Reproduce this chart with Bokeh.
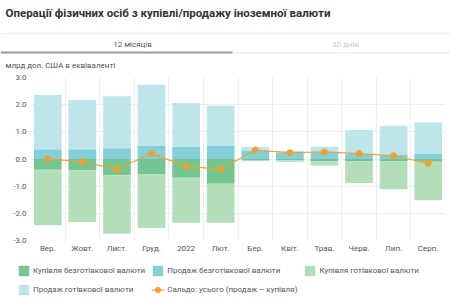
from bokeh.plotting import figure
from bokeh.layouts import column
from bokeh.models import (Range1d, FixedTicker, PrintfTickFormatter, Legend,
                          LegendItem, ColumnDataSource)
from bokeh.core.properties import value
from bokeh.embed import file_html
from bokeh.resources import INLINE

# Monthly operations of individuals, bn USD equivalent
months = ["Вер.", "Жовт.", "Лист.", "Груд.", "2022", "Лют.",
          "Бер.", "Квіт.", "Трав.", "Черв.", "Лип.", "Серп."]
cashless_sale = [0.36, 0.36, 0.40, 0.48, 0.45, 0.48, 0.32, 0.22, 0.25, 0.20, 0.15, 0.20]
cash_sale = [2.00, 1.81, 1.91, 2.25, 1.61, 1.48, 0.12, 0.08, 0.20, 0.87, 1.07, 1.14]
cashless_buy = [0.40, 0.41, 0.60, 0.57, 0.69, 0.91, 0.04, 0.05, 0.08, 0.08, 0.08, 0.10]
cash_buy = [2.04, 1.91, 2.15, 1.97, 1.66, 1.44, 0.03, 0.05, 0.16, 0.80, 1.03, 1.42]
saldo = [0.00, -0.10, -0.38, 0.20, -0.26, -0.38, 0.33, 0.23, 0.26, 0.20, 0.12, -0.16]

y_ticks = [-3, -2, -1, 0, 1, 2, 3]

title_text = "Операції фізичних осіб з купівлі/продажу іноземної валюти"
tab_labels = ["12 місяців", "30 днів"]
unit_text = "млрд дол. США в еквіваленті"
legend_labels = ["Купівля безготівкової валюти", "Продаж безготівкової валюти",
                 "Купівля готівкової валюти", "Продаж готівкової валюти",
                 "Сальдо: усього (продаж – купівля)"]

FONT = "Roboto"
TXT = "#555555"

C_CASHLESS_BUY = "#74c58f"
C_CASHLESS_SALE = "#84cfd8"
C_CASH_BUY = "#b3deba"
C_CASH_SALE = "#bde5ea"
C_SALDO = "#eea234"

W = 450
HEAD_H = 72
FOOT_H = 47
MAIN_H = 305 - HEAD_H - FOOT_H


def no_frame_align(fig):
    # keep each figure's own borders inside the column
    try:
        fig.frame_align = False
    except AttributeError:
        pass


# ---------- header: title, tabs, unit caption (pixel coordinates) ----------
head = figure(width=W, height=HEAD_H, x_range=Range1d(0, W), y_range=Range1d(HEAD_H, 0),
              toolbar_location=None, output_backend="svg",
              x_axis_location=None, y_axis_location=None,
              min_border_left=0, min_border_right=0, min_border_top=0, min_border_bottom=0)
head.grid.visible = False
head.outline_line_color = None
no_frame_align(head)

head.text(x=[5], y=[12], text=[title_text], text_font=value(FONT), text_font_size="11.5px",
          text_font_style="bold", text_color="#333333", text_baseline="middle")
head.segment(x0=[0], y0=[33], x1=[W], y1=[33], line_color="#eeeeee", line_width=1)
head.text(x=[132], y=[44], text=[tab_labels[0]], text_font=value(FONT), text_font_size="8px",
          text_color=TXT, text_align="center", text_baseline="middle")
head.text(x=[345], y=[44], text=[tab_labels[1]], text_font=value(FONT), text_font_size="8px",
          text_color="#cccccc", text_align="center", text_baseline="middle")
head.segment(x0=[232], y0=[52.5], x1=[W], y1=[52.5], line_color="#e6e6e6", line_width=1)
head.segment(x0=[0], y0=[52], x1=[232], y1=[52], line_color="#9a9a9a", line_width=2)
head.text(x=[5], y=[65], text=[unit_text], text_font=value(FONT), text_font_size="8px",
          text_color=TXT, text_baseline="middle")

# ---------- main chart ----------
n = len(months)
xs = list(range(n))
pos1_top = cashless_sale
pos2_top = [a + b for a, b in zip(cashless_sale, cash_sale)]
neg1_bot = [-a for a in cashless_buy]
neg2_bot = [-(a + b) for a, b in zip(cashless_buy, cash_buy)]

src = ColumnDataSource(dict(x=xs, pos1_top=pos1_top, pos2_top=pos2_top,
                            neg1_bot=neg1_bot, neg2_bot=neg2_bot, saldo=saldo))

p = figure(width=W, height=MAIN_H, x_range=Range1d(-0.5, n - 0.5),
           y_range=Range1d(-3, 3), toolbar_location=None, output_backend="svg",
           min_border_left=30, min_border_right=5, min_border_top=5, min_border_bottom=18)
p.outline_line_color = None
no_frame_align(p)

BW = 0.8
p.vbar(x="x", bottom=0, top="neg1_bot", width=BW, source=src,
       fill_color=C_CASHLESS_BUY, line_color=None)
p.vbar(x="x", bottom=0, top="pos1_top", width=BW, source=src,
       fill_color=C_CASHLESS_SALE, line_color=None)
p.vbar(x="x", bottom="neg2_bot", top="neg1_bot", width=BW, source=src,
       fill_color=C_CASH_BUY, line_color=None)
p.vbar(x="x", bottom="pos1_top", top="pos2_top", width=BW, source=src,
       fill_color=C_CASH_SALE, line_color=None)
p.line(x="x", y="saldo", source=src, line_color=C_SALDO, line_width=1.2)
p.scatter(x="x", y="saldo", source=src, size=6, fill_color=C_SALDO, line_color=C_SALDO)

# grids: horizontal at ticks, vertical between months
p.ygrid.ticker = FixedTicker(ticks=y_ticks)
p.ygrid.grid_line_color = "#eeeeee"
p.xgrid.ticker = FixedTicker(ticks=[i - 0.5 for i in range(n + 1)])
p.xgrid.grid_line_color = "#eeeeee"

p.yaxis.ticker = FixedTicker(ticks=y_ticks)
p.yaxis.formatter = PrintfTickFormatter(format="%.1f")
p.yaxis.axis_line_color = None
p.yaxis.major_tick_line_color = None
p.yaxis.minor_tick_line_color = None
p.yaxis.major_tick_out = 0
p.yaxis.minor_tick_out = 0
p.yaxis.major_label_text_font = FONT
p.yaxis.major_label_text_font_size = "8px"
p.yaxis.major_label_text_color = TXT
p.yaxis.major_label_standoff = 4

p.xaxis.ticker = FixedTicker(ticks=xs)
p.xaxis.major_label_overrides = {i: m for i, m in enumerate(months)}
p.xaxis.axis_line_color = None
p.xaxis.major_tick_line_color = None
p.xaxis.minor_tick_line_color = None
p.xaxis.major_tick_out = 0
p.xaxis.minor_tick_out = 0
p.xaxis.major_label_text_font = FONT
p.xaxis.major_label_text_font_size = "8px"
p.xaxis.major_label_text_color = TXT
p.xaxis.major_label_standoff = 3

# ---------- footer: legend ----------
foot = figure(width=W, height=FOOT_H, x_range=Range1d(0, W), y_range=Range1d(0, FOOT_H),
              toolbar_location=None, output_backend="svg",
              x_axis_location=None, y_axis_location=None,
              min_border_left=0, min_border_right=0, min_border_top=0, min_border_bottom=0)
foot.grid.visible = False
foot.outline_line_color = None
no_frame_align(foot)

# legend-only renderers, placed off the visible range
off = ColumnDataSource(dict(x=[-1000], y=[-1000]))
l_cb = foot.vbar(x="x", top="y", width=1, source=off, fill_color=C_CASHLESS_BUY, line_color=None)
l_cs = foot.vbar(x="x", top="y", width=1, source=off, fill_color=C_CASHLESS_SALE, line_color=None)
l_hb = foot.vbar(x="x", top="y", width=1, source=off, fill_color=C_CASH_BUY, line_color=None)
l_hs = foot.vbar(x="x", top="y", width=1, source=off, fill_color=C_CASH_SALE, line_color=None)
l_ln = foot.line(x="x", y="y", source=off, line_color=C_SALDO, line_width=1.2)
l_dt = foot.scatter(x="x", y="y", source=off, size=6, fill_color=C_SALDO, line_color=C_SALDO)

legend = Legend(items=[
    LegendItem(label=legend_labels[0], renderers=[l_cb]),
    LegendItem(label=legend_labels[1], renderers=[l_cs]),
    LegendItem(label=legend_labels[2], renderers=[l_hb]),
    LegendItem(label=legend_labels[3], renderers=[l_hs]),
    LegendItem(label=legend_labels[4], renderers=[l_ln, l_dt]),
], location=(17, 9), orientation="horizontal", ncols=3,
    label_text_font=FONT, label_text_font_size="8px", label_text_color=TXT,
    glyph_width=13, glyph_height=13, label_height=13, label_standoff=3,
    spacing=6, padding=0, margin=0, border_line_color=None, background_fill_alpha=0)
foot.add_layout(legend, "center")

layout = column(head, p, foot, spacing=0)
open("out.html", "w").write(file_html(layout, INLINE))
